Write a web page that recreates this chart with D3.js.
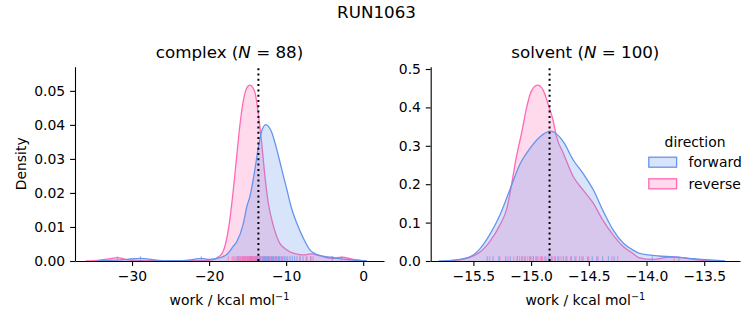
<!DOCTYPE html>
<html><head><meta charset="utf-8">
<script src="https://cdn.jsdelivr.net/npm/d3@7"></script>
<style>
body{margin:0;background:#fff;}
text{font-family:"DejaVu Sans",sans-serif;fill:#000;}
</style></head>
<body><svg id="c" width="753" height="325"></svg>
<script>
// ---------- data ----------
const figTitle = "RUN1063";
const directions = ["forward", "reverse"];
const colors = {forward: "#6495ED", reverse: "#FF69B4"};

// complex phase: KDE curves [work, density]
const complexForwardX = [-34.5,-33,-31,-28.9,-27,-25.5,-23.5,-22,-21,-20,-19.3,-18.4,-17.7,-16.9,-16.4,-15.6,-15.1,-14.7,-14.1,-13.6,-13.2,-12.64,-11.9,-11.25,-10.6,-9.95,-9.3,-8.65,-7.79,-6.9,-6.3,-5.4,-4.1,-2.8,-1.3,0.5];
const complexForwardY = [0,0.0002,0.0004,0.0008,0.0003,0.0001,0.0001,0.0005,0.0008,0.0005,0.0006,0.0011,0.0019,0.0042,0.0057,0.0106,0.016,0.019,0.0262,0.0335,0.038,0.0401,0.038,0.0331,0.0272,0.0214,0.0155,0.0113,0.0068,0.0032,0.0022,0.0015,0.0011,0.0006,0.0003,0];
const complexReverseX = [-36,-34.5,-33,-31.9,-30.8,-30,-27,-24,-21,-19.6,-18.9,-18.2,-17.4,-16.88,-16.44,-16.0,-15.58,-15.14,-14.71,-14.07,-13.64,-13.19,-12.77,-12.34,-11.69,-10.82,-10.17,-9.09,-7.79,-6.7,-5.6,-4.1,-2.8,-1.3,0.3];
const complexReverseY = [0,0.0002,0.0006,0.001,0.0005,0.0002,0.0001,0.0001,0.0001,0.0003,0.001,0.0027,0.0106,0.0204,0.0302,0.0399,0.0468,0.0507,0.0517,0.0497,0.0438,0.035,0.0253,0.0174,0.0106,0.0052,0.0037,0.0023,0.0018,0.0021,0.0015,0.0008,0.0011,0.0005,0];

// solvent phase: KDE curves [work, density]
const solventForwardX = [-15.8,-15.65,-15.53,-15.44,-15.36,-15.27,-15.18,-15.10,-15.01,-14.92,-14.83,-14.72,-14.635,-14.55,-14.46,-14.38,-14.29,-14.20,-14.12,-14.06,-13.89,-13.71,-13.59,-13.45,-13.32];
const solventForwardY = [0,0.003,0.011,0.033,0.068,0.12,0.189,0.25,0.293,0.324,0.338,0.31,0.263,0.228,0.185,0.133,0.081,0.046,0.029,0.02,0.013,0.0096,0.006,0.0026,0];
const solventReverseX = [-15.75,-15.62,-15.44,-15.36,-15.27,-15.21,-15.17,-15.13,-15.08,-15.04,-15.0,-14.945,-14.896,-14.85,-14.81,-14.78,-14.72,-14.635,-14.55,-14.46,-14.38,-14.29,-14.20,-14.12,-14.06,-13.95,-13.8,-13.7,-13.59,-13.45];
const solventReverseY = [0,0.003,0.024,0.05,0.094,0.137,0.198,0.267,0.337,0.398,0.441,0.458,0.445,0.406,0.367,0.324,0.28,0.22,0.185,0.15,0.107,0.068,0.037,0.02,0.008,0.004,0.01,0.009,0.004,0];

// rug samples
const complexForwardRug = [-28.9,-21.0,-16.2,-15.6,-15.3,-15.0,-14.8,-14.6,-14.5,-14.3,-14.1,-13.9,-13.8,-13.7,-13.5,-13.4,-13.3,-13.1,-13.0,-12.9,-12.8,-12.7,-12.6,-12.5,-12.4,-12.3,-12.2,-12.1,-11.9,-11.8,-11.7,-11.6,-11.4,-11.3,-11.2,-11.0,-10.9,-10.8,-10.6,-10.4,-10.2,-10.0,-9.8,-9.5,-9.2,-8.9,-8.6,-8.2,-7.8,-7.3,-6.8,-4.0];
const complexReverseRug = [-31.9,-17.5,-17.0,-16.8,-16.6,-16.4,-16.3,-16.1,-16.0,-15.9,-15.8,-15.7,-15.6,-15.5,-15.4,-15.3,-15.2,-15.1,-15.0,-14.9,-14.8,-14.7,-14.65,-14.6,-14.5,-14.45,-14.4,-14.3,-14.2,-14.1,-14.0,-13.9,-13.8,-13.7,-13.5,-13.3,-13.0,-12.7,-12.4,-12.0,-11.6,-11.2,-10.5,-8.2,-7.4,-6.8,-6.5,-2.8];
const solventForwardRug = [-15.38,-15.33,-15.28,-15.22,-15.18,-15.12,-15.08,-15.05,-15.01,-14.98,-14.95,-14.91,-14.88,-14.85,-14.82,-14.79,-14.76,-14.72,-14.69,-14.65,-14.62,-14.58,-14.55,-14.51,-14.47,-14.43,-14.38,-14.33,-14.28,-13.95,-13.72];
const solventReverseRug = [-15.36,-15.27,-15.2,-15.15,-15.12,-15.1,-15.08,-15.06,-15.03,-15.01,-15.0,-14.98,-14.96,-14.94,-14.92,-14.9,-14.87,-14.84,-14.82,-14.8,-14.77,-14.74,-14.7,-14.66,-14.61,-14.56,-14.5,-14.42,-14.3,-14.25,-13.76];

// panels
const panelNames = ["complex", "solvent"];
const panelN = [88, 100];
const medianLines = [-13.6, -14.84];
const xDomains = [[-37.4, 2.7], [-15.87, -13.19]];
const yDomains = [[0, 0.0571], [0, 0.506]];
const xTicks = [[-30,-20,-10,0], [-15.5,-15.0,-14.5,-14.0,-13.5]];
const yTicks = [[0,0.01,0.02,0.03,0.04,0.05], [0,0.1,0.2,0.3,0.4,0.5]];
const xFormats = ["d", ".1f"];
const yFormats = [".2f", ".1f"];

// ---------- drawing ----------
const svg = d3.select("#c");
const FS = 13.9;
const yTop = 66.7, yBottom = 261;
const xRanges = [[75, 384], [430.7, 740]];

svg.append("text").attr("x", 376.5).attr("y", 18).attr("text-anchor", "middle")
  .style("font-size", "16.7px").text(figTitle);

const curves = [
  {forward: [complexForwardX, complexForwardY], reverse: [complexReverseX, complexReverseY]},
  {forward: [solventForwardX, solventForwardY], reverse: [solventReverseX, solventReverseY]}
];
const rugs = [
  {forward: complexForwardRug, reverse: complexReverseRug},
  {forward: solventForwardRug, reverse: solventReverseRug}
];

panelNames.forEach((name, i) => {
  const x = d3.scaleLinear().domain(xDomains[i]).range(xRanges[i]);
  const y = d3.scaleLinear().domain(yDomains[i]).range([yBottom, yTop]);
  const g = svg.append("g");
  const clipId = "clip" + i;
  svg.append("clipPath").attr("id", clipId).append("rect")
    .attr("x", xRanges[i][0]).attr("y", yTop).attr("width", xRanges[i][1] - xRanges[i][0]).attr("height", yBottom - yTop);
  const plot = g.append("g").attr("clip-path", `url(#${clipId})`);

  const area = d3.area().x(d => x(d[0])).y0(y(0)).y1(d => y(d[1])).curve(d3.curveMonotoneX);
  const line = d3.line().x(d => x(d[0])).y(d => y(d[1])).curve(d3.curveMonotoneX);

  // reverse drawn first, forward on top
  ["reverse", "forward"].forEach(dir => {
    const [xs, ys] = curves[i][dir];
    const pts = xs.map((v, k) => [v, ys[k]]);
    plot.append("path").datum(pts).attr("d", area)
      .attr("fill", colors[dir]).attr("fill-opacity", 0.25).attr("stroke", "none");
    plot.append("path").datum(pts).attr("d", line)
      .attr("fill", "none").attr("stroke", colors[dir]).attr("stroke-width", 1.3);
  });

  // rugs
  const rugH = 0.025 * (yBottom - yTop);
  ["forward", "reverse"].forEach(dir => {
    plot.append("g").selectAll("line").data(rugs[i][dir]).join("line")
      .attr("x1", d => x(d)).attr("x2", d => x(d))
      .attr("y1", yBottom).attr("y2", yBottom - rugH)
      .attr("stroke", colors[dir]).attr("stroke-opacity", 0.6).attr("stroke-width", 1.2);
  });

  // median dotted line
  plot.append("line").attr("x1", x(medianLines[i])).attr("x2", x(medianLines[i]))
    .attr("y1", yBottom).attr("y2", yTop)
    .attr("stroke", "#000").attr("stroke-width", 2).attr("stroke-dasharray", "2,3.3");

  // axes
  const xAxis = d3.axisBottom(x).tickValues(xTicks[i]).tickFormat(d3.format(xFormats[i]))
    .tickSize(4.9).tickPadding(4.9).tickSizeOuter(0);
  const yAxis = d3.axisLeft(y).tickValues(yTicks[i]).tickFormat(d3.format(yFormats[i]))
    .tickSize(4.9).tickPadding(4.9).tickSizeOuter(0);
  const gx = g.append("g").attr("transform", `translate(0,${yBottom})`).call(xAxis);
  const gy = g.append("g").attr("transform", `translate(${xRanges[i][0]},0)`).call(yAxis);
  [gx, gy].forEach(a => {
    a.selectAll("text").style("font-size", FS + "px").style("font-family", "DejaVu Sans");
    a.select(".domain").attr("stroke-width", 1.1);
    a.selectAll(".tick line").attr("stroke-width", 1.1);
  });

  // title
  const cx = (xRanges[i][0] + xRanges[i][1]) / 2;
  const t = g.append("text").attr("x", cx).attr("y", 58.4).attr("text-anchor", "middle").style("font-size", "16.7px");
  t.append("tspan").text(name + " (");
  t.append("tspan").style("font-style", "italic").text("N");
  t.append("tspan").text(" = " + panelN[i] + ")");

  // xlabel
  const xl = g.append("text").attr("x", cx).attr("y", 305).attr("text-anchor", "middle").style("font-size", FS + "px");
  xl.append("tspan").text("work / kcal mol");
  xl.append("tspan").attr("dy", -5).style("font-size", "9.7px").text("\u22121");
});

// ylabel
svg.append("text").attr("transform", "translate(26,163.8) rotate(-90)").attr("text-anchor", "middle")
  .style("font-size", FS + "px").text("Density");

// legend
const lg = svg.append("g");
lg.append("text").attr("x", 695).attr("y", 146.5).attr("text-anchor", "middle").style("font-size", FS + "px").text("direction");
directions.forEach((dir, k) => {
  const yy = 156.7 + k * 21.6;
  lg.append("rect").attr("x", 648.8).attr("y", yy + 0.5).attr("width", 27.8).attr("height", 10)
    .attr("fill", colors[dir]).attr("fill-opacity", 0.25).attr("stroke", colors[dir]).attr("stroke-width", 1.3);
  lg.append("text").attr("x", 688.5).attr("y", yy + 10.3).style("font-size", FS + "px").text(dir);
});
</script></body></html>
